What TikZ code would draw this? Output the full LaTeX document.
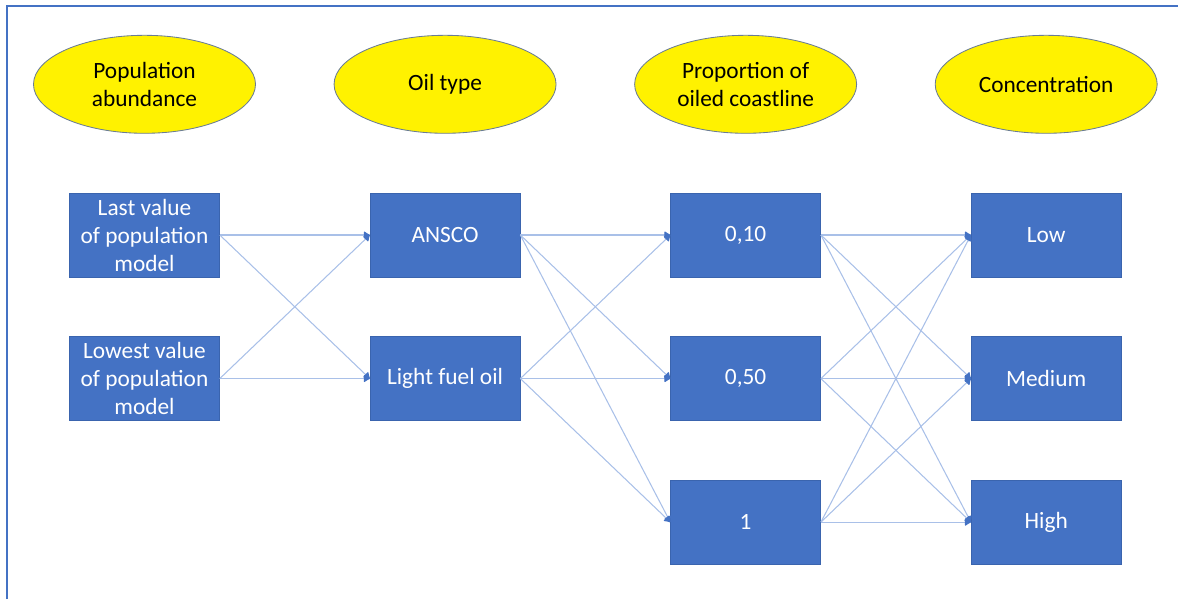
\documentclass[tikz,border=0pt]{standalone}
\usepackage{fontspec}
\setmainfont{Carlito}
\usetikzlibrary{positioning,shapes.geometric,arrows.meta}
\definecolor{boxblue}{HTML}{4472C4}
\definecolor{boxedge}{HTML}{3A64AE}
\definecolor{linkblue}{HTML}{A9C0E8}
\definecolor{ovaledge}{HTML}{6A7C96}
\tikzset{
  statebox/.style={rectangle, fill=boxblue, draw=boxedge, line width=0.4pt,
    text=white, minimum width=3.75cm, minimum height=2.1cm, inner sep=0pt,
    align=center, font=\fontsize{16.6}{19.9}\selectfont},
  varoval/.style={ellipse, fill=yellow, draw=ovaledge, line width=0.6pt,
    minimum width=5.55cm, minimum height=2.45cm, inner sep=0pt,
    align=center, font=\fontsize{16.6}{19.9}\selectfont},
  link/.style={draw=linkblue, line width=0.75pt,
    -{Latex[round,length=1.7mm,width=2.1mm,color=boxblue]}},
}

\begin{document}
\begin{tikzpicture}[node distance=1.475cm and 3.75cm]
  \useasboundingbox (0,0) rectangle (29.45,-14.975);
  \draw[boxblue, line width=0.05cm] (0.175,-14.975) -- (0.175,-0.15) -- (29.45,-0.15);

  \node[statebox] (last) at (3.6125,-5.875) {Last value\\of population\\model};
  \node[statebox, below=of last] (lowest) {Lowest value\\of population\\model};
  \node[statebox, right=of last] (ansco) {ANSCO};
  \node[statebox, right=of lowest] (lfo) {Light fuel oil};
  \node[statebox, right=of ansco] (p10) {0,10};
  \node[statebox, right=of lfo] (p50) {0,50};
  \node[statebox, below=of p50] (p100) {1};
  \node[statebox, right=of p10] (low) {Low};
  \node[statebox, right=of p50] (medium) {Medium};
  \node[statebox, right=of p100] (high) {High};

  \node[varoval, above=of last] (abund) {Population\\abundance};
  \node[varoval, above=of ansco] (oil) {Oil type};
  \node[varoval, above=of p10] (prop) {Proportion of\\oiled coastline};
  \node[varoval, above=of low] (conc) {Concentration};

  \foreach \a in {last,lowest}
    \foreach \b in {ansco,lfo}
      \draw[link] (\a.east) -- (\b.west);
  \foreach \a in {ansco,lfo}
    \foreach \b in {p10,p50,p100}
      \draw[link] (\a.east) -- (\b.west);
  \foreach \a in {p10,p50,p100}
    \foreach \b in {low,medium,high}
      \draw[link] (\a.east) -- (\b.west);
\end{tikzpicture}
\end{document}
